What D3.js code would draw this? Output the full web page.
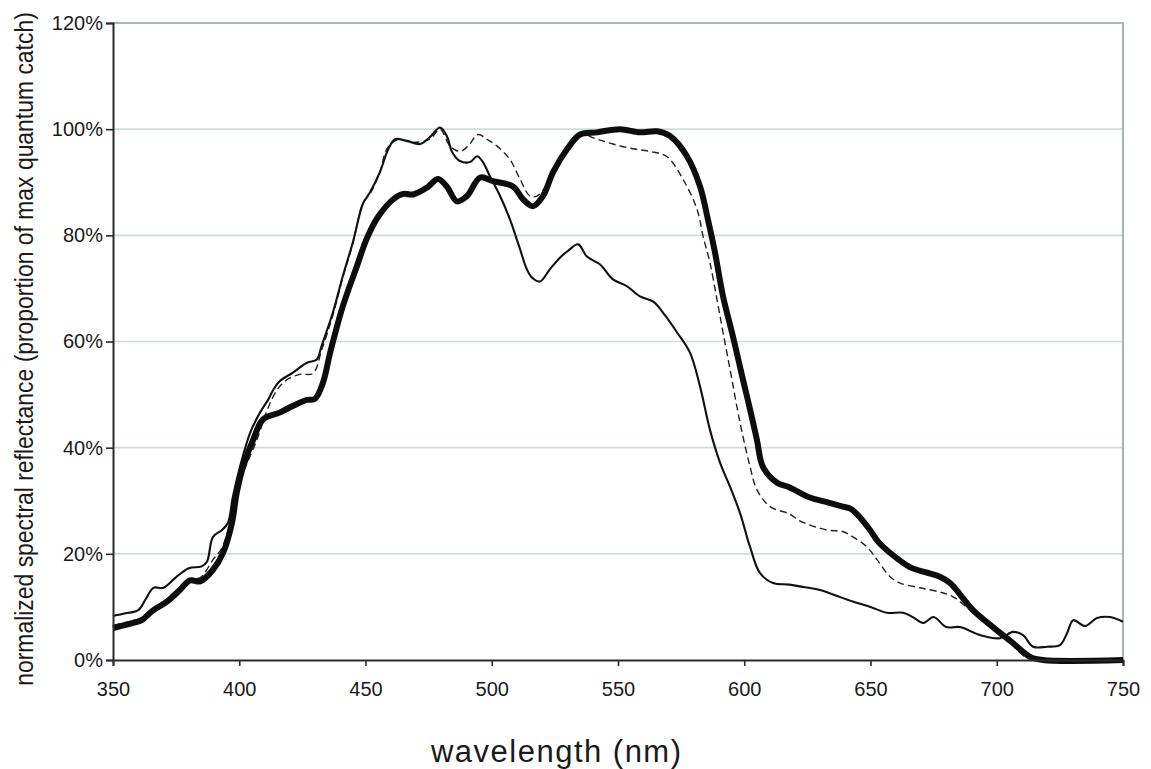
<!DOCTYPE html>
<html>
<head>
<meta charset="utf-8">
<script src="https://cdn.jsdelivr.net/npm/d3@7"></script>
<style>
  html, body { margin: 0; padding: 0; background: #ffffff; }
  svg { display: block; }
  text { font-family: "Liberation Sans", Arial, sans-serif; fill: #1a1a1a; }
</style>
</head>
<body>
<svg id="chart" width="1151" height="769"></svg>
<script>
// ---------- data ----------
const xTicks = [350, 400, 450, 500, 550, 600, 650, 700, 750];
const yTicks = [0, 20, 40, 60, 80, 100, 120];
const xLabel = "wavelength (nm)";
const yLabel = "normalized spectral reflectance (proportion of max quantum catch)";

// thin solid line
const thinNm  = [350,355,360,363,366,370,375,380,385,387.2,389.6,393.2,395.5,397.5,400.3,404.3,408.2,411.4,413.5,416,421.4,426.8,430.7,432.5,437.1,441,445,449,451.8,455.7,459,461.7,466.4,471.6,475.5,479.5,482.2,484.3,487.4,491.4,494.2,496.5,499.3,503.3,507.2,511.2,513.9,516,519.1,523,527,530,534.2,537.7,542.9,548,553.6,558.7,564,568.5,573.4,578.5,582.5,586.4,590.4,594.4,598.3,602.3,606.2,611.4,618,624,630,636,643,650,656.5,663,667,671,675,680,685.4,693.4,701.3,706.4,710.4,714.4,719.9,725,727.8,730.3,735,739.7,744.8,750];
const thinVal = [8.3,8.8,9.4,11.5,13.6,13.6,15.6,17.3,17.6,18.5,23.2,24.5,25.8,30.8,36.4,42.8,46.6,49,50.9,52.5,54.2,56,56.6,59,65.5,72.3,78.7,86,88.1,91.9,96.2,98.1,97.8,97.2,98.5,100.3,98.7,95.7,94,93.8,94.9,93.8,91.1,87.4,83,77.4,73.6,72,71.3,73.6,75.8,77,78.3,76,74.5,71.7,70.4,68.5,67.5,65,61.7,57.9,51.5,43.4,37.2,32.6,27.7,21.3,16.4,14.5,14.2,13.7,13.2,12.2,11,10,8.9,8.9,8,7,8.1,6.2,6.2,4.7,4.1,5.3,4.7,2.5,2.5,2.8,5,7.5,6.4,7.9,8.1,7.2];

// dashed line
const dashNm  = [350,355,360,366,371,376,380.5,384.5,389.6,393,397,399.5,402,407,411,415,418.9,424,429.2,432.7,437.1,441,445,449,452,455.7,458.5,462.5,468.8,475.5,479.5,483.5,487.4,490.6,494.6,498.1,502.1,507.2,511.2,515.1,517.9,521,524.3,529.8,535,541.7,548,555.9,562.7,569.4,575.7,581.3,583.7,586.4,589.2,591.6,594.4,597.1,599.5,602.3,605,610.2,618,622,632.7,639,643,648.6,652.6,657.7,661.7,669.6,677.5,682.7,689.4,697.3,704,710.4,713.2,750];
const dashVal = [6.5,7.1,7.7,9.8,11.4,13.5,15.3,15.5,18.9,21,27,32.5,35.8,41.5,47,50.9,52.8,53.8,54,58.5,65,72,78.5,86,88,91.9,96.3,98,97.5,98.1,100,96.8,95.8,96.8,99,98.1,96.8,94.3,90.6,87.4,87.4,89,92.5,96.5,99,98.1,97.2,96.3,95.8,94.8,90.6,84.9,79.8,74.9,67.9,61.7,54.7,47.7,42.1,36.4,32.1,28.9,27.5,26.2,24.5,24.2,23.2,21.3,18.9,15.7,14.5,13.6,12.8,11.9,9.4,6.2,3.8,0.9,0.2,0.2];

// thick solid line
const thickNm  = [350,355,358,361,366,371.4,376.5,380.5,384.5,389.6,393.6,397.1,399,401.5,405.5,409.4,416,421.4,426.8,430,433.2,436,441,446.6,450.6,455,461,465,468.8,474.4,478.7,482.2,486.2,490.2,495.4,500.5,508.4,512.4,516.3,520.3,524.3,529.8,535,541.7,550.8,558.7,565.4,570.6,577.3,582.5,585.6,588.4,591.6,595.5,599.5,602.3,605,607.4,613,618,626,633,639,642,645,649.8,653,657.7,665.6,672,677.5,681.5,690.6,698.5,706.4,713.2,718.3,750];
const thickVal = [6,6.6,7,7.4,9.4,11,13.2,15,14.8,17,20.2,25.8,31.5,36.4,41.5,45.3,46.6,47.9,49,49.2,52.3,57.9,66.6,74.2,79.5,83.5,86.8,87.8,87.7,89,90.6,89.2,86.4,87.4,90.9,90.2,89.2,86.8,85.5,87.4,91.9,96.2,99,99.4,100,99.4,99.6,98.7,94.9,89.2,83,76.8,68.5,61,52.8,47.2,41.5,36.4,33.4,32.5,30.6,29.7,28.9,28.5,27.3,24.5,22.3,20.2,17.5,16.5,15.7,14.5,9.4,6.2,3.2,0.6,0,0];

// ---------- chart ----------
const svg = d3.select("#chart");
const mLeft = 113, mRight = 1123, mTop = 23, mBottom = 660;

const x = d3.scaleLinear().domain([350, 750]).range([mLeft, mRight]);
const y = d3.scaleLinear().domain([0, 120]).range([mBottom, mTop]);

// gridlines
svg.append("g")
  .selectAll("line")
  .data(yTicks.filter(d => d > 0 && d < 120))
  .join("line")
  .attr("x1", mLeft).attr("x2", mRight)
  .attr("y1", d => y(d)).attr("y2", d => y(d))
  .attr("stroke", "#cfdcdb").attr("stroke-width", 1.6);

// top and right frame (grey)
svg.append("line")
  .attr("x1", mLeft).attr("x2", mRight + 1)
  .attr("y1", y(120)).attr("y2", y(120))
  .attr("stroke", "#a7b7b6").attr("stroke-width", 1.8);
svg.append("line")
  .attr("x1", mRight).attr("x2", mRight)
  .attr("y1", y(120)).attr("y2", y(0))
  .attr("stroke", "#a7b7b6").attr("stroke-width", 2);

// series
const mk = (nm, v) => nm.map((d, i) => [d, v[i]]);
const line = d3.line()
  .x(d => x(d[0])).y(d => y(d[1]))
  .curve(d3.curveCatmullRom.alpha(0.5));

const plot = svg.append("g");
plot.append("path")
  .datum(mk(dashNm, dashVal))
  .attr("d", line)
  .attr("fill", "none").attr("stroke", "#222")
  .attr("stroke-width", 1.4).attr("stroke-dasharray", "7,4");
plot.append("path")
  .datum(mk(thinNm, thinVal))
  .attr("d", line)
  .attr("fill", "none").attr("stroke", "#111")
  .attr("stroke-width", 2.1).attr("stroke-linejoin", "round");
plot.append("path")
  .datum(mk(thickNm, thickVal))
  .attr("d", line)
  .attr("fill", "none").attr("stroke", "#0d0d0d")
  .attr("stroke-width", 6).attr("stroke-linejoin", "round").attr("stroke-linecap", "butt");

// axes
const xAxis = d3.axisBottom(x).tickValues(xTicks).tickSize(6).tickPadding(16).tickFormat(d3.format("d"));
const gx = svg.append("g").attr("transform", `translate(0,${mBottom})`).call(xAxis);
gx.select(".domain").attr("stroke", "#2a2a2a").attr("stroke-width", 2);
gx.selectAll(".tick line").attr("stroke", "#2a2a2a").attr("stroke-width", 1.6);
gx.selectAll("text").attr("font-size", 20).attr("fill", "#1a1a1a").attr("font-family", "Liberation Sans, Arial, sans-serif");

const yAxis = d3.axisLeft(y).tickValues(yTicks).tickSize(7).tickPadding(3).tickFormat(d => d + "%");
const gy = svg.append("g").attr("transform", `translate(${mLeft},0)`).call(yAxis);
gy.select(".domain").attr("stroke", "#2a2a2a").attr("stroke-width", 2);
gy.selectAll(".tick line").attr("stroke", "#2a2a2a").attr("stroke-width", 1.6);
gy.selectAll("text").attr("font-size", 20).attr("fill", "#1a1a1a").attr("font-family", "Liberation Sans, Arial, sans-serif");

// axis titles
svg.append("text")
  .attr("x", 556).attr("y", 762)
  .attr("text-anchor", "middle")
  .attr("font-size", 31)
  .attr("textLength", 250).attr("lengthAdjust", "spacing")
  .text(xLabel);

// y title: condensed by a horizontal scale so its box matches what is drawn
const yTitle = svg.append("text")
  .attr("text-anchor", "middle")
  .attr("font-size", 25)
  .text(yLabel);
const natural = yTitle.node().getComputedTextLength();
const sx = Math.min(1, 674 / natural);
yTitle.attr("transform", `translate(33,349) rotate(-90) scale(${sx},1)`);
</script>
</body>
</html>
